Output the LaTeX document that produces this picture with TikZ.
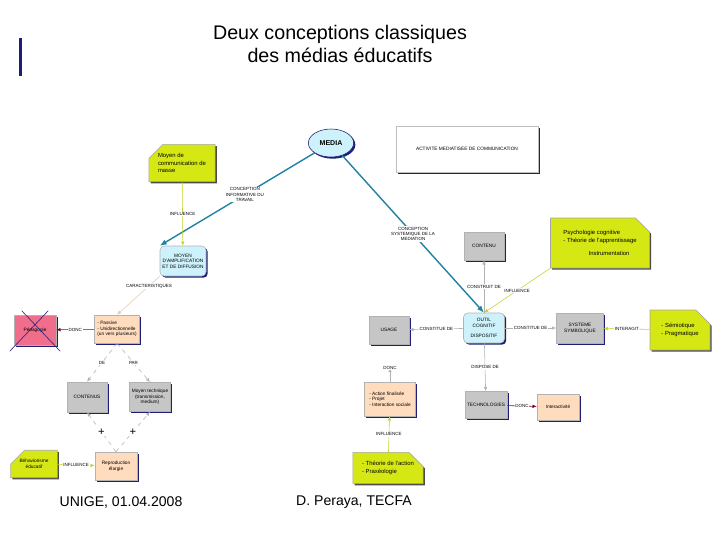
\documentclass[tikz,border=0pt]{standalone}
\usepackage{fontspec}
\setmainfont{Liberation Sans}
\usetikzlibrary{positioning, arrows.meta, shapes.geometric, shapes.misc, shadows, calc}
\definecolor{noteyel}{RGB}{214,232,20}
\definecolor{peach}{RGB}{255,220,190}
\definecolor{lcyan}{RGB}{205,242,252}
\definecolor{pinkred}{RGB}{240,110,140}
\definecolor{teal2}{RGB}{30,130,160}
\definecolor{navy}{RGB}{30,30,120}
\tikzset{
  shad/.style={drop shadow={shadow xshift=1.2pt, shadow yshift=-1.2pt, fill=navy, opacity=1}},
  box/.style={rectangle, draw=gray!60, shad, font=\fontsize{3.4}{4}\selectfont, align=center, inner sep=1pt},
  graybox/.style={box, fill=gray!45},
  peachbox/.style={box, fill=peach},
  cyanbox/.style={box, fill=lcyan, rounded corners=3pt},
  note/.style={chamfered rectangle, chamfered rectangle xsep=5pt, chamfered rectangle ysep=5pt, draw=gray!70, fill=noteyel,
    drop shadow={shadow xshift=1.2pt, shadow yshift=-1.2pt, fill=black!70, opacity=1},
    font=\fontsize{4.2}{5.2}\selectfont, align=left, inner sep=1.5pt},
  lbl/.style={fill=white, font=\fontsize{3.2}{3.8}\selectfont, align=center, inner sep=0.5pt},
  link/.style={draw=gray!60, thin, -{Latex[length=3pt,width=2.5pt]}},
  ylink/.style={draw=noteyel!80!gray, thin, -{Latex[length=3pt,width=2.5pt]}},
  plink/.style={draw=purple!70!black, thin, -{Latex[length=3pt,width=2.5pt]}},
  tlink/.style={draw=teal2, line width=1pt, -{Latex[length=5pt,width=4pt]}},
}
\begin{document}
\begin{tikzpicture}[x=0.025cm, y=-0.025cm]
    \useasboundingbox (0,0) rectangle (720,540);
    % Title and footer
    \fill[navy] (19,38) rectangle (22,76);
    \node[font=\fontsize{14}{17}\selectfont, align=center] (title) at (340,44) {Deux conceptions classiques\\des médias éducatifs};
    \node[font=\fontsize{10}{12}\selectfont] (foot1) at (121,502) {UNIGE, 01.04.2008};
    \node[font=\fontsize{10}{12}\selectfont] (foot2) at (354,502) {D. Peraya, TECFA};
    % Nodes
    \node[ellipse, draw=navy, fill=lcyan, shad, minimum width=36*0.025cm, minimum height=28*0.025cm, font=\fontsize{5}{6}\selectfont\bfseries] (media) at (331,143) {MEDIA};
    \node[rectangle, draw=gray!50, fill=white, shad, minimum width=142*0.025cm, minimum height=46*0.025cm, font=\fontsize{3.4}{4}\selectfont] (activite) at (467,149) {ACTIVITE MEDIATISEE DE COMMUNICATION};
    \node[note, chamfered rectangle corners=north west, minimum width=65*0.025cm, minimum height=33*0.025cm] (masse) at (182,163) {Moyen de\\communication de\\masse};
    \node[cyanbox, minimum width=46*0.025cm, minimum height=30*0.025cm] (ampli) at (183,261) {MOYEN\\D'AMPLIFICATION\\ET DE DIFFUSION};
    \node[peachbox, align=left, minimum width=45*0.025cm, minimum height=28*0.025cm] (passive) at (117,329) {- Passive\\- Unidirectionnelle\\(un vers plusieurs)};
    \node[box, fill=pinkred, minimum width=42*0.025cm, minimum height=30*0.025cm] (pedago) at (35,330) {Pédagogie};
    \draw[navy, thin] ($(pedago.north west)+(8,-4)$) -- ($(pedago.south east)+(4,6)$);
    \draw[navy, thin] ($(pedago.north east)+(-8,-4)$) -- ($(pedago.south west)+(-4,6)$);
    \node[graybox, minimum width=40*0.025cm, minimum height=30*0.025cm] (contenus) at (87,397) {CONTENUS};
    \node[graybox, minimum width=41*0.025cm, minimum height=29*0.025cm] (technique) at (150,397) {Moyen technique\\(transmission,\\medium)};
    \node[peachbox, minimum width=42*0.025cm, minimum height=28*0.025cm] (reprod) at (116,466) {Reproduction\\élargie};
    \node[note, chamfered rectangle corners=north west, align=center, font=\fontsize{3.4}{4}\selectfont, minimum width=40*0.025cm, minimum height=25*0.025cm] (behav) at (34,464) {Béhaviorisme\\éducatif};
    \node[graybox, minimum width=40*0.025cm, minimum height=28*0.025cm] (contenu) at (484,246) {CONTENU};
    \node[note, chamfered rectangle corners=north east, minimum width=99*0.025cm, minimum height=50*0.025cm] (psycho) at (600,243) {Psychologie cognitive\\- Théorie de l'apprentissage\\[4pt]\hspace*{18pt}Instrumentation};
    \node[cyanbox, minimum width=41*0.025cm, minimum height=30*0.025cm] (outil) at (484,328) {OUTIL\\COGNITIF\\[3pt]DISPOSITIF};
    \node[graybox, minimum width=40*0.025cm, minimum height=28*0.025cm] (usage) at (389,330) {USAGE};
    \node[graybox, minimum width=47*0.025cm, minimum height=30*0.025cm] (symbol) at (580,328) {SYSTEME\\SYMBOLIQUE};
    \node[note, chamfered rectangle corners=north east, minimum width=60*0.025cm, minimum height=40*0.025cm] (semio) at (680,330) {- Sémiotique\\- Pragmatique};
    \node[graybox, minimum width=42*0.025cm, minimum height=27*0.025cm] (techno) at (486,405) {TECHNOLOGIES};
    \node[peachbox, minimum width=42*0.025cm, minimum height=26*0.025cm] (interact) at (558,407) {Interactivité};
    \node[peachbox, align=left, minimum width=51*0.025cm, minimum height=34*0.025cm] (action) at (390,399) {- Action finalisée\\- Projet\\- Interaction sociale};
    \node[note, chamfered rectangle corners=north east, minimum width=66*0.025cm, minimum height=31*0.025cm] (theorie) at (388,468) {- Théorie de l'action\\- Praxéologie};
    \coordinate (donc end) at (390,368);
    % Connectors
    \draw[tlink] (media) -- node[lbl, pos=0.45] {CONCEPTION\\INFORMATIVE DU\\TRAVAIL} (ampli.north west);
    \draw[tlink] (media) -- node[lbl, pos=0.5] {CONCEPTION\\SYSTEMIQUE DE LA\\MEDIATION} (outil.north);
    \draw[ylink] (masse) -- node[lbl] {INFLUENCE} (ampli);
    \draw[draw=peach!80!gray, thin, -{Latex[length=3pt,width=2.5pt]}] (ampli.south west) -- node[lbl, pos=0.25] {CARACTERISTIQUES} (passive.north);
    \draw[plink] (passive) -- node[lbl] {DONC} (pedago);
    \draw[link, dashed] (passive.south) -- node[lbl] {DE} (contenus.north);
    \draw[link, dashed] (passive.south) -- node[lbl] {PAR} (technique.north);
    \draw[link, dashed] (reprod.north) -- node[lbl, font=\fontsize{8}{8}\selectfont] {+} (contenus.south);
    \draw[link, dashed] (reprod.north) -- node[lbl, font=\fontsize{8}{8}\selectfont] {+} (technique.south);
    \draw[ylink] (behav) -- node[lbl] {INFLUENCE} (reprod);
    \draw[link] (outil) -- node[lbl] {CONSTRUIT DE} (contenu);
    \draw[ylink] (psycho.south west) -- node[lbl] {INFLUENCE} (outil.north);
    \draw[link] (outil) -- node[lbl] {CONSTITUE DE} (usage);
    \draw[link] (outil) -- node[lbl] {CONSTITUE DE} (symbol);
    \draw[ylink] (semio) -- node[lbl] {INTERAGIT} (symbol);
    \draw[link] (outil) -- node[lbl] {DISPOSE DE} (techno);
    \draw[plink] (techno) -- node[lbl] {DONC} (interact);
    \draw[link] (action) -- node[lbl, pos=1] {DONC} (donc end);
    \draw[ylink] (theorie) -- node[lbl] {INFLUENCE} (action);
\end{tikzpicture}
\end{document}
